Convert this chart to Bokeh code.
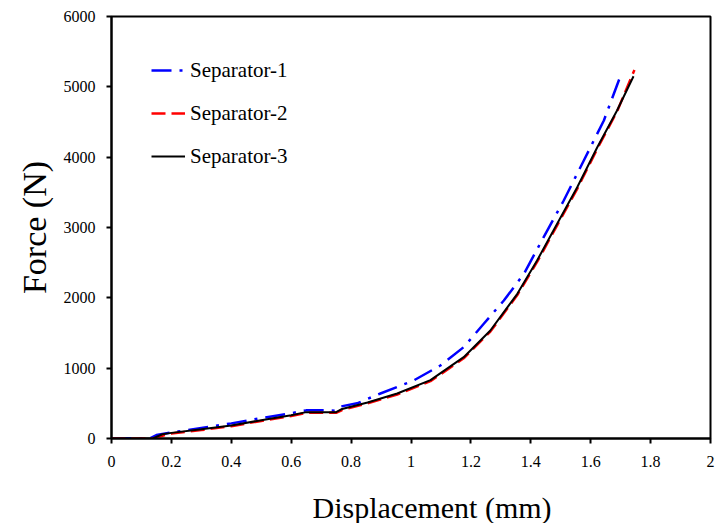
from bokeh.plotting import figure
from bokeh.models import FixedTicker, Legend, LegendItem, Title
from bokeh.embed import file_html
from bokeh.resources import INLINE

# Data
x_sep1 = [0, 0.13, 0.15, 0.2, 0.3, 0.4, 0.5, 0.6, 0.65, 0.72, 0.745, 0.765, 0.82, 0.898, 1.009, 1.098, 1.176,
          1.243, 1.31, 1.377, 1.443, 1.51, 1.577, 1.644, 1.70]
y_sep1 = [0, 5, 50, 85, 150, 215, 290, 360, 400, 400, 395, 455, 500, 640, 825, 1038, 1299,
          1631, 1962, 2341, 2863, 3384, 3953, 4522, 5161]

x_sep2 = [0, 0.14, 0.17, 0.2, 0.3, 0.4, 0.5, 0.6, 0.65, 0.75, 0.77, 0.855, 0.954, 1.065, 1.176,
          1.265, 1.355, 1.421, 1.488, 1.555, 1.622, 1.688, 1.746]
y_sep2 = [0, 0, 40, 70, 120, 175, 250, 320, 365, 365, 405, 500, 625, 815, 1140,
          1520, 2040, 2510, 3030, 3550, 4120, 4650, 5240]

x_sep3 = [0, 0.14, 0.17, 0.2, 0.3, 0.4, 0.5, 0.6, 0.65, 0.75, 0.77, 0.855, 0.954, 1.065, 1.176,
          1.265, 1.355, 1.421, 1.488, 1.555, 1.622, 1.688, 1.743]
y_sep3 = [0, 5, 60, 80, 130, 185, 260, 330, 375, 375, 420, 512, 640, 830, 1156,
          1536, 2057, 2531, 3053, 3573, 4142, 4664, 5150]

x_ticks = [0, 0.2, 0.4, 0.6, 0.8, 1, 1.2, 1.4, 1.6, 1.8, 2]
x_tick_labels = ["0", "0.2", "0.4", "0.6", "0.8", "1", "1.2", "1.4", "1.6", "1.8", "2"]
y_ticks = [0, 1000, 2000, 3000, 4000, 5000, 6000]
y_tick_labels = ["0", "1000", "2000", "3000", "4000", "5000", "6000"]

series_names = ["Separator-1", "Separator-2", "Separator-3"]
x_title = "Displacement (mm)"
y_title = "Force (N)"

FONT = "Liberation Serif"

p = figure(width=716, height=523, output_backend="svg", toolbar_location=None,
           x_range=(0, 2), y_range=(0, 6000),
           min_border_left=111, min_border_right=6, min_border_top=16, min_border_bottom=85)

p.xgrid.visible = False
p.ygrid.visible = False
p.outline_line_color = "black"
p.outline_line_width = 2
p.background_fill_color = "white"
p.border_fill_color = "white"

r1 = p.line(x_sep1, y_sep1, line_color="#0000ff", line_width=2.5, line_dash="20 8 3 8")
r2 = p.line(x_sep2, y_sep2, line_color="#ff0000", line_width=2.5, line_dash="14 6")
r3 = p.line(x_sep3, y_sep3, line_color="black", line_width=2)

for ax in (p.xaxis[0], p.yaxis[0]):
    ax.axis_line_width = 2
    ax.axis_line_color = "black"
    ax.major_tick_line_width = 2
    ax.major_tick_line_color = "black"
    ax.major_tick_out = 5
    ax.major_tick_in = 0
    ax.minor_tick_line_color = None
    ax.major_label_text_font = FONT
    ax.major_label_text_font_size = "16px"
    ax.major_label_text_color = "black"
    ax.axis_label_text_font = FONT
    ax.axis_label_text_font_style = "normal"
    ax.axis_label_text_color = "black"

p.xaxis[0].ticker = FixedTicker(ticks=x_ticks)
p.xaxis[0].major_label_overrides = dict(zip(x_ticks, x_tick_labels))
p.yaxis[0].ticker = FixedTicker(ticks=y_ticks)
p.yaxis[0].major_label_overrides = dict(zip(y_ticks, y_tick_labels))

p.xaxis[0].major_label_standoff = 12

# thin blank spacer below the x axis, pushes the x title down
gap = Title(text=" ", text_font_size="1px", standoff=16)
p.add_layout(gap, "below")

# x-axis title, placed right of centre as in the reference
xt = Title(text=x_title, align="left", offset=201, text_font=FONT,
           text_font_size="30px", text_font_style="normal", text_color="black",
           standoff=0, vertical_align="bottom")
p.add_layout(xt, "below")

p.yaxis[0].axis_label = y_title
p.yaxis[0].axis_label_text_font_size = "34px"
p.yaxis[0].major_label_standoff = 11
p.yaxis[0].axis_label_standoff = 8

legend = Legend(items=[LegendItem(label=series_names[0], renderers=[r1]),
                       LegendItem(label=series_names[1], renderers=[r2]),
                       LegendItem(label=series_names[2], renderers=[r3])],
                location="top_left")
legend.border_line_color = None
legend.background_fill_alpha = 0
legend.margin = 40
legend.padding = 10
legend.glyph_width = 34
legend.glyph_height = 28
legend.label_height = 28
legend.spacing = 15
legend.label_standoff = 5
legend.label_text_font = FONT
legend.label_text_font_size = "21px"
legend.label_text_color = "black"
p.add_layout(legend)

open("out.html", "w").write(file_html(p, INLINE))
